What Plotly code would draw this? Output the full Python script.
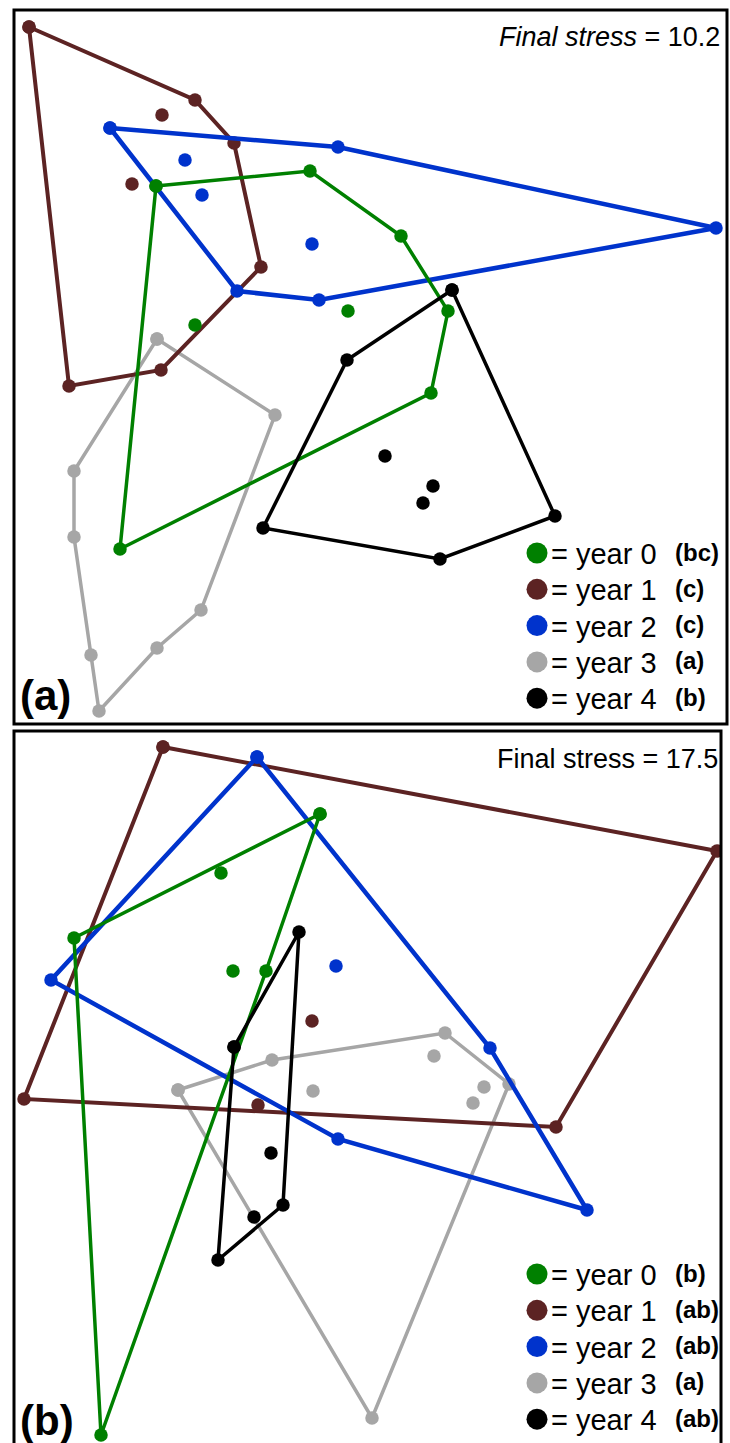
import plotly.graph_objects as go

W, H = 730, 1443

years = ["year 0", "year 1", "year 2", "year 3", "year 4"]
colors = ["#008000", "#5c2323", "#0033cc", "#a6a6a6", "#000000"]
widths = [3.5, 4, 4.5, 3.5, 3.5]
letters_a = ["(bc)", "(c)", "(c)", "(a)", "(b)"]
letters_b = ["(b)", "(ab)", "(ab)", "(a)", "(ab)"]
stress_a = "10.2"
stress_b = "17.5"

# ---- panel (a): ordination scores (hull vertices in order, then inner points)
a_hull_x = [[156, 310, 401, 448, 431, 120],
            [29, 195, 234, 261, 161, 69],
            [110, 338, 716, 319, 237],
            [157, 275, 201, 157, 99, 91, 74, 74],
            [452, 555, 440, 263, 347]]
a_hull_y = [[186, 171, 236, 311, 393, 549],
            [27, 100, 143, 267, 370, 386],
            [128, 147, 228, 300, 291],
            [339, 415, 610, 648, 711, 655, 537, 471],
            [290, 516, 559, 528, 360]]
a_in_x = [[348, 195], [162, 132], [185, 202, 312], [], [385, 433, 423]]
a_in_y = [[311, 325], [115, 184], [160, 195, 244], [], [456, 486, 503]]

# ---- panel (b)
b_hull_x = [[320, 266, 101, 74],
            [163, 717, 556, 24],
            [257, 490, 587, 338, 51],
            [178, 272, 445, 509, 372],
            [234, 299, 283, 218]]
b_hull_y = [[814, 971, 1435, 938],
            [747, 851, 1127, 1099],
            [757, 1048, 1210, 1139, 980],
            [1090, 1060, 1033, 1084, 1418],
            [1047, 932, 1205, 1260]]
b_in_x = [[221, 233], [312, 258], [336], [434, 313, 484, 473], [271, 254]]
b_in_y = [[873, 971], [1021, 1105], [966], [1056, 1091, 1087, 1103], [1153, 1217]]

FONT = "Liberation Sans, Arial, Helvetica, sans-serif"

fig = go.Figure()

draw_order = [3, 1, 2, 0, 4]

def add_panel(hx, hy, ix, iy, xa, ya):
    for k in draw_order:
        xs = list(hx[k]) + [hx[k][0]]
        ys = list(hy[k]) + [hy[k][0]]
        fig.add_trace(go.Scatter(x=xs, y=ys, mode="lines+markers",
                                 line=dict(color=colors[k], width=widths[k]),
                                 marker=dict(color=colors[k], size=13.5),
                                 xaxis=xa, yaxis=ya, showlegend=False, hoverinfo="skip"))
        if ix[k]:
            fig.add_trace(go.Scatter(x=ix[k], y=iy[k], mode="markers",
                                     marker=dict(color=colors[k], size=13.5),
                                     xaxis=xa, yaxis=ya, showlegend=False, hoverinfo="skip"))

add_panel(a_hull_x, a_hull_y, a_in_x, a_in_y, "x", "y")
add_panel(b_hull_x, b_hull_y, b_in_x, b_in_y, "x2", "y2")

def px(v):
    return v / W

def py(v):
    return 1 - v / H

# panel frames (in pixels)
A = dict(l=14, r=727, t=10, b=724)
B = dict(l=14, r=721, t=731, b=1443)

axis_common = dict(showgrid=False, zeroline=False, showticklabels=False, ticks="", showline=False)
fig.update_layout(
    xaxis=dict(domain=[px(A["l"]), px(A["r"])], range=[A["l"], A["r"]], **axis_common),
    yaxis=dict(domain=[py(A["b"]), py(A["t"])], range=[A["b"], A["t"]], **axis_common),
    xaxis2=dict(domain=[px(B["l"]), px(B["r"])], range=[B["l"], B["r"]], **axis_common),
    yaxis2=dict(domain=[py(B["b"]), py(B["t"])], range=[B["b"], B["t"]], **axis_common),
)

shapes = [
    dict(type="rect", xref="paper", yref="paper", x0=px(A["l"]), x1=px(A["r"]), y0=py(A["b"]), y1=py(A["t"]),
         line=dict(color="black", width=3), layer="above"),
    dict(type="rect", xref="paper", yref="paper", x0=px(B["l"]), x1=px(B["r"]), y0=py(B["b"] + 10), y1=py(B["t"]),
         line=dict(color="black", width=3), layer="above"),
]

annotations = []

def legend(y0, labels):
    for k in range(5):
        yc = y0 + 36.3 * k
        shapes.append(dict(type="circle", xref="paper", yref="paper",
                           x0=px(537 - 10.5), x1=px(537 + 10.5), y0=py(yc + 10.5), y1=py(yc - 10.5),
                           fillcolor=colors[k], line=dict(width=0)))
        annotations.append(dict(x=px(549), y=py(yc + 1), xref="paper", yref="paper", xanchor="left", yanchor="middle",
                                text="= " + years[k], showarrow=False,
                                font=dict(family=FONT, size=29, color="black")))
        annotations.append(dict(x=px(673), y=py(yc - 1), xref="paper", yref="paper", xanchor="left", yanchor="middle",
                                text="<b>" + labels[k] + "</b>", showarrow=False,
                                font=dict(family=FONT, size=24, color="black")))

legend(553, letters_a)
legend(1274, letters_b)

annotations.append(dict(x=px(722), y=py(37), xref="paper", yref="paper", xanchor="right", yanchor="middle",
                        text="<i>Final stress</i> = " + stress_a, showarrow=False,
                        font=dict(family=FONT, size=27, color="black")))
annotations.append(dict(x=px(720), y=py(759), xref="paper", yref="paper", xanchor="right", yanchor="middle",
                        text="Final stress = " + stress_b, showarrow=False,
                        font=dict(family=FONT, size=27, color="black")))
annotations.append(dict(x=px(18), y=py(695), xref="paper", yref="paper", xanchor="left", yanchor="middle",
                        text="<b>(a)</b>", showarrow=False, font=dict(family=FONT, size=42, color="black")))
annotations.append(dict(x=px(18), y=py(1420), xref="paper", yref="paper", xanchor="left", yanchor="middle",
                        text="<b>(b)</b>", showarrow=False, font=dict(family=FONT, size=42, color="black")))

fig.update_layout(width=W, height=H, margin=dict(l=0, r=0, t=0, b=0),
                  paper_bgcolor="white", plot_bgcolor="white",
                  shapes=shapes, annotations=annotations, showlegend=False)

fig.write_html("out.html", config={"displayModeBar": False},
               post_script="document.body.style.margin='0px';document.body.style.padding='0px';document.body.style.overflow='hidden';")
